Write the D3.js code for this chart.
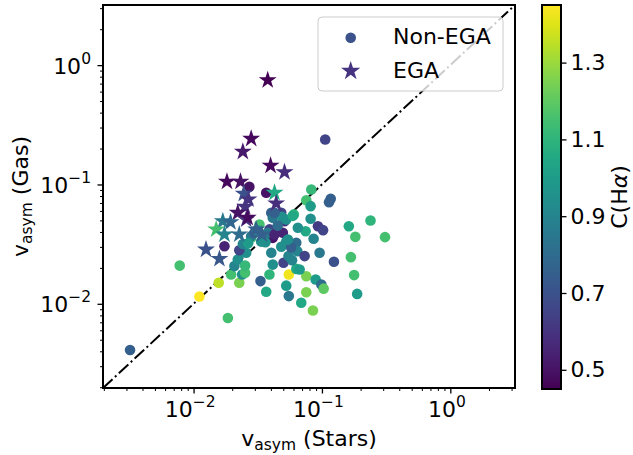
<!DOCTYPE html>
<html>
<head>
<meta charset="utf-8">
<script src="https://cdn.jsdelivr.net/npm/d3@7"></script>
<style>
  body { margin: 0; background: #fff; }
  svg text { font-family: "DejaVu Sans", sans-serif; fill: #000; }
</style>
</head>
<body>
<div id="canvas"></div>
<script>
// data (values, not pixels)
var nonEgaX = [0.106,0.0032,0.0111,0.0157,0.0078,0.0185,0.0552,0.0851,0.069,0.188,
  0.178,0.168,0.124,0.31,0.239,0.182,0.162,0.117,0.1135,0.0826,
  0.0755,0.0816,0.0816,0.0931,0.102,0.0861,0.0746,0.0649,0.0604,0.0511,
  0.0496,0.0414,0.0631,0.0643,0.0733,0.0959,0.0502,0.039,0.0755,0.0893,
  0.0989,0.1031,0.0755,0.0527,0.0552,0.0332,0.0368,0.0227,0.0196,0.0239,
  0.0252,0.0208,0.0221,0.0252,0.0235,0.0257,0.0174,0.0227,0.0326,0.0368,
  0.0403,0.0272,0.039,0.0414,0.0363,0.0403,0.0414,0.0482,0.0549,0.0631,
  0.0281,0.0527,0.0378,0.0527,0.0281,0.0336,0.0482,0.0576,0.067,0.0298,
  0.0242,0.0486,0.0543,0.0427,0.0593,0.0427,0.0452,0.0312,0.0585,0.0266];
var nonEgaY = [0.238,0.0041,0.0115,0.0150,0.0209,0.0076,0.0176,0.0088,0.0102,0.0121,
  0.0174,0.0246,0.0225,0.0362,0.0499,0.0364,0.0447,0.0759,0.0711,0.0908,
  0.0738,0.0658,0.0516,0.0447,0.0414,0.0351,0.0406,0.0434,0.0561,0.0492,
  0.0394,0.0357,0.0325,0.0276,0.0251,0.0268,0.0221,0.0176,0.017,0.016,
  0.0145,0.0134,0.0125,0.0142,0.0116,0.0155,0.0126,0.015,0.0176,0.0176,
  0.0182,0.0207,0.0235,0.0209,0.0268,0.0268,0.0304,0.0281,0.0462,0.0852,
  0.0579,0.0958,0.042,0.0526,0.0328,0.0268,0.0213,0.0301,0.0251,0.0196,
  0.0357,0.0509,0.0394,0.0332,0.0369,0.0332,0.0579,0.0296,0.0194,0.0394,
  0.0317,0.0536,0.0345,0.0579,0.0546,0.0381,0.0452,0.0415,0.0232,0.0322];
var nonEgaC = [0.65,0.75,1.45,1.35,1.15,1.15,1.43,1.25,1.05,1.0,
  1.15,1.15,0.7,1.15,1.1,1.15,1.05,0.75,0.75,1.12,
  1.15,1.0,0.95,0.62,0.65,0.9,1.05,0.95,1.1,0.6,
  0.55,0.5,0.8,0.9,0.65,0.85,0.65,1.1,1.25,1.0,
  0.8,1.2,1.25,1.0,0.85,0.75,1.05,1.25,1.15,0.95,
  1.15,0.9,0.95,1.12,0.95,0.95,0.55,0.65,1.15,0.5,
  0.75,0.5,0.65,0.85,0.95,0.9,0.95,0.95,0.9,1.05,
  1.15,0.95,0.85,0.95,0.85,0.95,0.65,0.75,1.0,0.75,
  0.9,0.95,0.95,0.75,1.05,0.55,0.8,0.95,0.9,1.0];

var egaX = [0.0378,0.0281,0.0242,0.0398,0.0511,0.0182,0.0232,0.0427,0.0246,0.0268,
  0.044,0.0252,0.0221,0.0257,0.0169,0.0194,0.015,0.0174,0.0227,0.0307,
  0.034,0.0125,0.0159,0.0264];
var egaY = [0.748,0.2415,0.188,0.144,0.127,0.1055,0.1055,0.0852,0.0836,0.0749,
  0.0693,0.065,0.0579,0.0509,0.0492,0.0483,0.042,0.0381,0.0381,0.042,
  0.0381,0.0285,0.0238,0.0526];
var egaC = [0.45,0.47,0.52,0.48,0.58,0.47,0.5,1.05,0.7,0.6,
  0.58,0.6,0.5,0.6,0.85,0.78,1.15,0.9,0.8,0.75,
  0.75,0.7,0.72,0.48];

var axisLim = [0.00197, 3.19];
var majorTicks = [0.01, 0.1, 1];
var majorExps = ['\u22122', '\u22121', '0'];
var cbarTicks = [0.5, 0.7, 0.9, 1.1, 1.3];
var legendLabels = ['Non-EGA', 'EGA'];

var outerWidth = 633, outerHeight = 455;
var m = {t:5, l:103};
var w = 412, h = 383;
var fs = 22, fsSmall = 15.5;

var svg = d3.select('#canvas')
    .append('svg')
    .attr('width', outerWidth)
    .attr('height', outerHeight);

var plot = svg.append('g')
    .attr('transform', 'translate(' + m.l + ',' + m.t + ')');

var scaleX = d3.scaleLog().domain(axisLim).range([0, w]);
var scaleY = d3.scaleLog().domain(axisLim).range([h, 0]);

var allC = nonEgaC.concat(egaC);
var scaleColor = d3.scaleSequential(d3.interpolateViridis)
    .domain(d3.extent(allC));

// minor ticks 2..9 per decade inside the limits
var minorTicks = [];
for (var e = -3; e <= 0; e++) {
  for (var k = 2; k <= 9; k++) {
    var v = k * Math.pow(10, e);
    if (v >= axisLim[0] && v <= axisLim[1]) minorTicks.push(v);
  }
}

function drawAxis(g, axisFn, scale, horizontal) {
  g.append('g').call(axisFn(scale).tickValues(minorTicks).tickSize(3).tickFormat(''))
    .call(function(s){ s.select('.domain').remove(); s.selectAll('line').attr('stroke-width', 1); });
  var maj = g.append('g').call(axisFn(scale).tickValues(majorTicks).tickSize(5.5).tickPadding(4).tickFormat(''));
  maj.select('.domain').remove();
  maj.selectAll('line').attr('stroke-width', 1.3);
  maj.selectAll('.tick').each(function(d, i) {
    var t = d3.select(this).append('text')
        .attr('font-size', fs)
        .attr('fill', '#000');
    if (horizontal) {
      t.attr('x', -4).attr('y', 29).attr('text-anchor', 'middle');
    } else {
      t.attr('x', -12).attr('y', 8).attr('text-anchor', 'end');
    }
    t.append('tspan').text('10');
    t.append('tspan').attr('font-size', fsSmall).attr('dy', -10).text(majorExps[i]);
  });
}

drawAxis(plot.append('g').attr('transform', 'translate(0,' + h + ')'), d3.axisBottom, scaleX, true);
drawAxis(plot.append('g'), d3.axisLeft, scaleY, false);

// one-to-one line
plot.append('line')
    .attr('x1', scaleX(axisLim[0])).attr('y1', scaleY(axisLim[0]))
    .attr('x2', scaleX(axisLim[1])).attr('y2', scaleY(axisLim[1]))
    .attr('stroke', '#000')
    .attr('stroke-width', 2)
    .attr('stroke-dasharray', '13,3.3,2,3.3');

var nonEga = nonEgaX.map(function(x, i){ return {x:x, y:nonEgaY[i], c:nonEgaC[i]}; });
var ega = egaX.map(function(x, i){ return {x:x, y:egaY[i], c:egaC[i]}; });

plot.selectAll('.dot')
    .data(nonEga)
    .enter().append('circle')
    .attr('class', 'dot')
    .attr('cx', function(d){ return scaleX(d.x); })
    .attr('cy', function(d){ return scaleY(d.y); })
    .attr('r', 5.3)
    .attr('fill', function(d){ return scaleColor(d.c); });

var star = d3.symbol().type(d3.symbolStar).size(100);
plot.selectAll('.star')
    .data(ega)
    .enter().append('path')
    .attr('class', 'star')
    .attr('d', star)
    .attr('transform', function(d){ return 'translate(' + scaleX(d.x) + ',' + scaleY(d.y) + ')'; })
    .attr('fill', function(d){ return scaleColor(d.c); });

// frame
plot.append('rect')
    .attr('width', w).attr('height', h)
    .attr('fill', 'none').attr('stroke', '#000').attr('stroke-width', 2);

// legend
var leg = plot.append('g').attr('transform', 'translate(215,12)');
leg.append('rect')
    .attr('width', 185).attr('height', 74).attr('rx', 4)
    .attr('fill', '#fff').attr('fill-opacity', 0.8)
    .attr('stroke', '#cccccc').attr('stroke-width', 1);
leg.append('circle').attr('cx', 32.7).attr('cy', 20.7).attr('r', 5.3)
    .attr('fill', d3.interpolateViridis(0.25));
leg.append('path').attr('d', d3.symbol().type(d3.symbolStar).size(115)())
    .attr('transform', 'translate(32.7,54)')
    .attr('fill', d3.interpolateViridis(0.15));
legendLabels.forEach(function(s, i) {
  leg.append('text').attr('x', 75).attr('y', 27 + i * 33.5)
      .attr('font-size', fs).text(s);
});

// axis labels
var xl = svg.append('text')
    .attr('x', m.l + w / 2).attr('y', 446)
    .attr('text-anchor', 'middle').attr('font-size', fs);
xl.append('tspan').text('v');
xl.append('tspan').attr('font-size', fsSmall).attr('dy', 4).text('asym');
xl.append('tspan').attr('dy', -4).text(' (Stars)');

var yl = svg.append('text')
    .attr('transform', 'translate(28,' + (m.t + h / 2) + ') rotate(-90)')
    .attr('text-anchor', 'middle').attr('font-size', fs);
yl.append('tspan').text('v');
yl.append('tspan').attr('font-size', fsSmall).attr('dy', 4).text('asym');
yl.append('tspan').attr('dy', -4).text(' (Gas)');

// colorbar
var cb = {x: 542, y: 5, w: 19, h: 384};
var cbScale = d3.scaleLinear().domain(scaleColor.domain()).range([cb.h, 0]);
var grad = svg.append('defs').append('linearGradient')
    .attr('id', 'viridis').attr('x1', 0).attr('y1', 1).attr('x2', 0).attr('y2', 0);
d3.range(0, 1.0001, 0.05).forEach(function(t) {
  grad.append('stop').attr('offset', t).attr('stop-color', d3.interpolateViridis(t));
});
var cbg = svg.append('g').attr('transform', 'translate(' + cb.x + ',' + cb.y + ')');
cbg.append('rect').attr('width', cb.w).attr('height', cb.h).attr('fill', 'url(#viridis)');
var cbAxis = cbg.append('g').attr('transform', 'translate(' + cb.w + ',0)')
    .call(d3.axisRight(cbScale).tickValues(cbarTicks).tickSize(5.5).tickPadding(4)
      .tickFormat(d3.format('.1f')));
cbAxis.select('.domain').remove();
cbAxis.selectAll('line').attr('stroke-width', 1.3);
cbAxis.selectAll('text').attr('font-size', fs).attr('font-family', 'DejaVu Sans').attr('fill', '#000');
cbg.append('rect').attr('width', cb.w).attr('height', cb.h)
    .attr('fill', 'none').attr('stroke', '#000').attr('stroke-width', 2);

var cl = svg.append('text')
    .attr('transform', 'translate(627,197) rotate(-90)')
    .attr('text-anchor', 'middle').attr('font-size', fs);
cl.append('tspan').text('C(H');
cl.append('tspan').attr('font-style', 'italic').text('\u03b1');
cl.append('tspan').text(')');
</script>
</body>
</html>
